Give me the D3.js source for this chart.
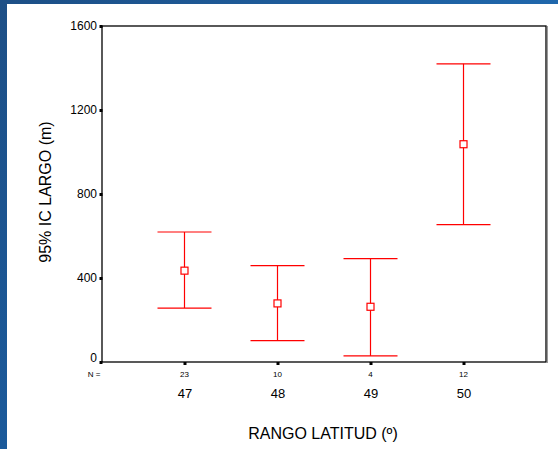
<!DOCTYPE html>
<html><head><meta charset="utf-8">
<script src="https://cdn.jsdelivr.net/npm/d3@7"></script>
<style>html,body{margin:0;padding:0;background:#fff;}svg{display:block;}</style>
</head><body>
<script>
const categories = ["47", "48", "49", "50"];
const nValues = ["23", "10", "4", "12"];
const means = [435, 279, 263, 1037];
const lowerCI = [257, 102, 29, 654];
const upperCI = [619, 459, 492, 1420];
const yTicks = [0, 400, 800, 1200, 1600];

(function(){
const W = 558, H = 449;
const svg = d3.select("body").append("svg").attr("width", W).attr("height", H);

const defs = svg.append("defs");
const gl = defs.append("linearGradient").attr("id","bgl").attr("x1",0).attr("y1",0).attr("x2",0).attr("y2",1);
gl.append("stop").attr("offset","0%").attr("stop-color","#1d4f86");
gl.append("stop").attr("offset","100%").attr("stop-color","#1b5a9b");
const gt = defs.append("linearGradient").attr("id","bgt").attr("x1",0).attr("y1",0).attr("x2",1).attr("y2",0);
gt.append("stop").attr("offset","0%").attr("stop-color","#1d4f86");
gt.append("stop").attr("offset","100%").attr("stop-color","#1f67ac");
svg.append("rect").attr("x",0).attr("y",0).attr("width",W).attr("height",4).attr("fill","url(#bgt)");
svg.append("rect").attr("x",0).attr("y",0).attr("width",7).attr("height",H).attr("fill","url(#bgl)");

const pl = 102, pr = 546, pt = 26, pb = 362;
const x = d3.scalePoint().domain(categories).range([pl, pr]).padding(0.887);
const y = d3.scaleLinear().domain([0, 1600]).range([pb, pt]);

// frame
svg.append("line").attr("x1",pr+1.5).attr("x2",pr+1.5).attr("y1",pt).attr("y2",pb+1).attr("stroke","#999").attr("stroke-width",1);
svg.append("rect").attr("x",pl).attr("y",pt).attr("width",pr-pl).attr("height",pb-pt)
  .attr("fill","none").attr("stroke","#000").attr("stroke-width",1.3);

// y axis
const ya = svg.append("g").attr("transform",`translate(${pl},0)`)
  .call(d3.axisLeft(y).tickValues(yTicks).tickSize(0).tickPadding(5).tickFormat(d3.format("d")));
ya.select(".domain").remove();
ya.selectAll("text").attr("font-family","Arial, 'Liberation Sans', sans-serif").attr("font-size",12).attr("fill","#000")
  .attr("dy", d => d === 0 ? "-0.05em" : "0.32em");
ya.selectAll(".tick").append("rect").attr("x",-2.5).attr("y",-1.5).attr("width",3).attr("height",3).attr("fill","#000");

// x axis
const xa = svg.append("g").attr("transform",`translate(0,${pb})`)
  .call(d3.axisBottom(x).tickSize(0).tickPadding(27));
xa.select(".domain").remove();
xa.selectAll("text").attr("font-family","Arial, 'Liberation Sans', sans-serif").attr("font-size",13).attr("fill","#000");
xa.selectAll(".tick").append("rect").attr("x",-1.5).attr("y",0).attr("width",3).attr("height",3).attr("fill","#000");

// N labels
svg.append("g").selectAll("text").data(nValues).join("text")
  .attr("x",(d,i)=>x(categories[i])).attr("y",377).attr("text-anchor","middle")
  .attr("font-family","Arial, 'Liberation Sans', sans-serif").attr("font-size",8).text(d=>d);
svg.append("text").attr("x",94).attr("y",377).attr("text-anchor","middle")
  .attr("font-family","Arial, 'Liberation Sans', sans-serif").attr("font-size",8).text("N =");

// titles
svg.append("text").attr("x",323).attr("y",439).attr("text-anchor","middle")
  .attr("font-family","Arial, 'Liberation Sans', sans-serif").attr("font-size",16).text("RANGO LATITUD (º)");
svg.append("text").attr("transform","translate(51,192) rotate(-90)").attr("text-anchor","middle")
  .attr("font-family","Arial, 'Liberation Sans', sans-serif").attr("font-size",16).text("95% IC LARGO (m)");

// error bars
const red = "#ff0000";
const g = svg.append("g").attr("stroke",red).attr("stroke-width",1.2);
categories.forEach((c,i)=>{
  const cx = x(c);
  g.append("line").attr("x1",cx).attr("x2",cx).attr("y1",y(upperCI[i])).attr("y2",y(lowerCI[i]));
  g.append("line").attr("x1",cx-27).attr("x2",cx+27).attr("y1",y(upperCI[i])).attr("y2",y(upperCI[i]));
  g.append("line").attr("x1",cx-27).attr("x2",cx+27).attr("y1",y(lowerCI[i])).attr("y2",y(lowerCI[i]));
  g.append("rect").attr("x",cx-3.5).attr("y",y(means[i])-3.5).attr("width",7).attr("height",7).attr("fill","#fff");
});
})();
</script>
</body></html>
